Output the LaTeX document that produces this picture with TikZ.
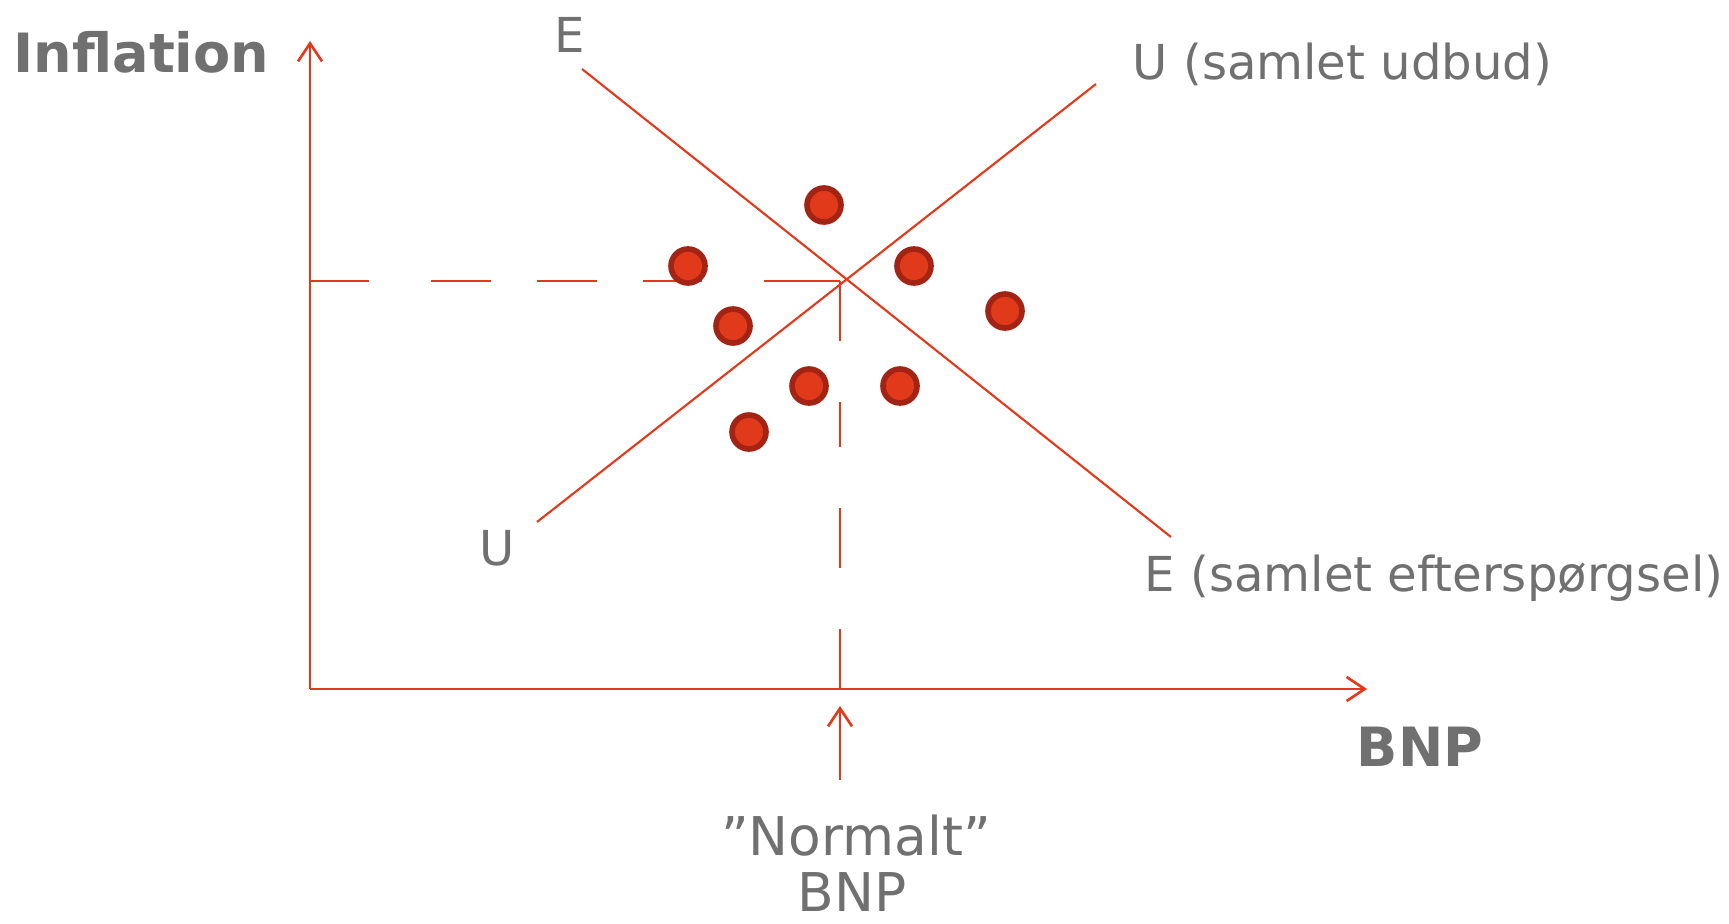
\documentclass[tikz,border=0pt]{standalone}
\usepackage{fontspec}
\setmainfont{DejaVu Sans}
\usepackage{tikz}
\usetikzlibrary{arrows.meta, positioning}
\definecolor{linered}{RGB}{228, 56, 26}
\definecolor{dotfill}{RGB}{224, 58, 26}
\definecolor{dotedge}{RGB}{163, 36, 20}
\definecolor{graytext}{RGB}{112, 112, 112}

\tikzset{
  axis/.style={line width=0.75pt, color=linered, -{Straight Barb[length=1.8mm, width=2.4mm]}},
  curve/.style={line width=0.6pt, color=linered},
  guide/.style={line width=0.65pt, color=linered},
  lbl/.style={color=graytext, font=\fontsize{13.7}{16}\selectfont, inner sep=0pt},
  biglbl/.style={color=graytext, font=\fontsize{15.2}{18}\selectfont, inner sep=0pt},
  axlbl/.style={color=graytext, font=\fontsize{15.4}{18}\selectfont\bfseries, inner sep=0pt},
  obs/.style={circle, fill=dotfill, draw=dotedge, line width=1.6pt, minimum size=0.34cm, inner sep=0pt}
}

\begin{document}
\begin{tikzpicture}
  \useasboundingbox (0,0) rectangle (17.29,9.23);

  % Axes
  \coordinate (origin) at (3.10,2.34);
  \coordinate (ytop) at (3.10,8.82);
  \coordinate (xend) at (13.67,2.34);
  \draw[axis] (origin) -- (ytop);
  \draw[axis] (origin) -- (xend);
  \node[axlbl, anchor=base west] (inflation) at (0.13,8.50) {Inflation};
  \node[axlbl, anchor=base] (bnp) at (14.20,1.57) {BNP};

  % Curves E and U
  \coordinate (Etop) at (5.82,8.54);
  \coordinate (Ebot) at (11.71,3.86);
  \coordinate (Ubot) at (5.37,4.01);
  \coordinate (Utop) at (10.96,8.39);
  \draw[curve] (Etop) -- (Ebot);
  \draw[curve] (Ubot) -- (Utop);
  \node[lbl] (Elabel) at (5.70,8.88) {E};
  \node[lbl] (Ulabel) at (4.97,3.75) {U};
  \node[lbl, anchor=west] (Uname) at (11.32,8.59) {U (samlet udbud)};
  \node[lbl, anchor=west] (Ename) at (11.44,3.45) {E (samlet efterspørgsel)};

  % Equilibrium guides
  \coordinate (yeq) at (3.10,6.42);
  \coordinate (eq) at (8.40,6.42);
  \coordinate (xeq) at (8.40,2.34);
  \draw[guide, dash pattern=on 0.59cm off 0.62cm on 0.6cm off 0.46cm on 0.6cm off 0.46cm on 0.59cm off 0.62cm on 0.8cm]
    (yeq) -- (eq);
  \draw[guide, dash pattern=on 0.6cm off 0.61cm on 0.45cm off 0.61cm on 0.6cm off 0.61cm on 0.7cm]
    (eq) -- (xeq);

  % Normal BNP
  \node[biglbl, anchor=base] (normalt) at (8.56,0.68) {”Normalt”};
  \node[biglbl, anchor=base] (normbnp) at (8.52,0.12) {BNP};
  \coordinate (arrfoot) at (8.40,1.43);
  \coordinate (arrtip) at (8.40,2.17);
  \draw[axis] (arrfoot) -- (arrtip);

  % Observations
  \node[obs] (d1) at (8.24,7.18) {};
  \node[obs] (d2) at (6.88,6.57) {};
  \node[obs] (d3) at (9.14,6.57) {};
  \node[obs] (d4) at (10.05,6.12) {};
  \node[obs] (d5) at (7.33,5.97) {};
  \node[obs] (d6) at (8.09,5.37) {};
  \node[obs] (d7) at (9.00,5.37) {};
  \node[obs] (d8) at (7.49,4.91) {};
\end{tikzpicture}
\end{document}
